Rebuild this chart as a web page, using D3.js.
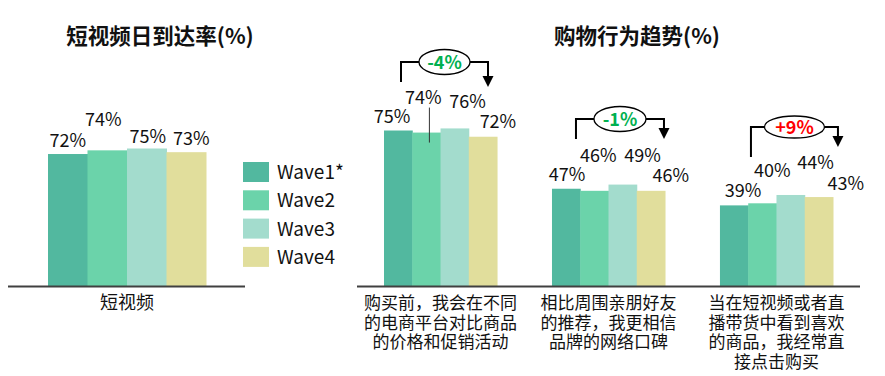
<!DOCTYPE html>
<html>
<head>
<meta charset="utf-8">
<script src="https://cdn.jsdelivr.net/npm/d3@7"></script>
<style>
  body { margin: 0; background: #fff; }
  text { font-family: "Noto Sans CJK SC", "Noto Sans", sans-serif; fill: #111; }
  .title { font-weight: bold; font-size: 21.5px; }
  .val { font-size: 18px; }
  .cat { font-size: 17px; }
  .legend-text { font-size: 19px; }
  .chg { font-size: 18px; font-weight: bold; }
</style>
</head>
<body>
<div id="chart"></div>
<script>
const W = 885, H = 376;
// data
const waves = ["Wave1*", "Wave2", "Wave3", "Wave4"];
const colors = ["#52b89f", "#6bd3aa", "#a3dccd", "#e1de9c"];
const leftCats = ["短视频"];
const leftVals = [[72], [74], [75], [73]]; // per wave
const rightCats = [
  ["购买前，我会在不同", "的电商平台对比商品", "的价格和促销活动"],
  ["相比周围亲朋好友", "的推荐，我更相信", "品牌的网络口碑"],
  ["当在短视频或者直", "播带货中看到喜欢", "的商品，我经常直", "接点击购买"]
];
const rightVals = [[75, 47, 39], [74, 46, 40], [76, 49, 44], [72, 46, 43]]; // per wave
const changes = ["-4%", "-1%", "+9%"];
const changeColors = ["#00b050", "#00b050", "#ff0000"];

// label nudges [dx, dy] from bar center / bar top (layout only)
const leftNudge = [[[0, -7]], [[-4, -24]], [[1, -6]], [[5, -7]]];
const rightNudge = [
  [[-6, -8], [1, -8], [9, -8]],
  [[-3, -29], [4, -29], [10, -26]],
  [[13, -20], [20, -23], [25, -26]],
  [[15, -9], [20, -9], [27, -7]]
];
// bracket: left x offset, right x offset from group start, top y, left foot y, arrow tip y, ellipse radii
const brackets = [
  { l: 17, r: 104, y: 62, foot: 82, tip: 87, rx: 25.5, ry: 12.5 },
  { l: 24, r: 112, y: 119, foot: 139, tip: 139, rx: 26, ry: 12.5 },
  { l: 31, r: 118, y: 127, foot: 157, tip: 147, rx: 30, ry: 11 }
];

const svg = d3.select("#chart").append("svg").attr("width", W).attr("height", H);

// ---- left chart
const BASE = 286.5;
const yL = d3.scaleLinear().domain([0, 100]).range([BASE, BASE - 184]);
const xL = d3.scaleBand().domain(leftCats).range([48, 206]);
const xLi = d3.scaleBand().domain(d3.range(waves.length)).range([0, xL.bandwidth()]);

svg.append("text").attr("class", "title").attr("x", 160).attr("y", 44)
  .attr("text-anchor", "middle").text("短视频日到达率(%)");

waves.forEach((w, s) => {
  leftCats.forEach((c, i) => {
    const v = leftVals[s][i];
    const x = xL(c) + xLi(s);
    svg.append("rect").attr("x", x).attr("y", yL(v))
      .attr("width", xLi.bandwidth() + 0.5).attr("height", yL(0) - yL(v)).attr("fill", colors[s]);
    svg.append("text").attr("class", "val").attr("text-anchor", "middle")
      .attr("x", x + xLi.bandwidth() / 2 + leftNudge[s][i][0])
      .attr("y", yL(v) + leftNudge[s][i][1]).text(v + "%");
  });
});
svg.append("line").attr("x1", 8).attr("x2", 245).attr("y1", BASE).attr("y2", BASE)
  .attr("stroke", "#404040").attr("stroke-width", 2);
leftCats.forEach(c => {
  svg.append("text").attr("class", "cat").attr("text-anchor", "middle")
    .attr("x", xL(c) + xL.bandwidth() / 2).attr("y", 309).style("font-size", "18px").text(c);
});

// legend
const legend = svg.append("g").attr("transform", "translate(243,162)");
waves.forEach((w, s) => {
  legend.append("rect").attr("x", 0).attr("y", s * 28.3).attr("width", 26).attr("height", 20).attr("fill", colors[s]);
  legend.append("text").attr("class", "legend-text").attr("x", 34).attr("y", s * 28.3 + 17).text(w);
});

// ---- right chart
const yR = d3.scaleLinear().domain([0, 100]).range([BASE, BASE - 208]);
const xR = d3.scaleBand().domain(d3.range(rightCats.length)).range([384, 833]).paddingInner(0.327);
const xRi = d3.scaleBand().domain(d3.range(waves.length)).range([0, xR.bandwidth()]);

svg.append("text").attr("class", "title").attr("x", 637).attr("y", 44)
  .attr("text-anchor", "middle").text("购物行为趋势(%)");

waves.forEach((w, s) => {
  rightCats.forEach((c, i) => {
    const v = rightVals[s][i];
    const x = xR(i) + xRi(s);
    svg.append("rect").attr("x", x).attr("y", yR(v))
      .attr("width", xRi.bandwidth() + 0.5).attr("height", yR(0) - yR(v)).attr("fill", colors[s]);
    svg.append("text").attr("class", "val").attr("text-anchor", "middle")
      .attr("x", x + xRi.bandwidth() / 2 + rightNudge[s][i][0])
      .attr("y", yR(v) + rightNudge[s][i][1]).text(v + "%");
  });
});
// leader line for the lifted 74% label
{
  const x = xR(0) + xRi(1) + xRi.bandwidth() / 2 + 3;
  svg.append("line").attr("x1", x).attr("x2", x)
    .attr("y1", yR(rightVals[1][0]) + rightNudge[1][0][1] + 4).attr("y2", yR(rightVals[1][0]) + 10)
    .attr("stroke", "#333").attr("stroke-width", 1);
}
svg.append("line").attr("x1", 357).attr("x2", 860).attr("y1", BASE).attr("y2", BASE)
  .attr("stroke", "#404040").attr("stroke-width", 2);

rightCats.forEach((lines, i) => {
  const t = svg.append("text").attr("class", "cat").attr("text-anchor", "middle");
  lines.forEach((ln, k) => {
    t.append("tspan").attr("x", xR(i) + xR.bandwidth() / 2).attr("y", 309 + k * 19.7).text(ln);
  });
});

// change brackets
brackets.forEach((b, i) => {
  const g0 = xR(i);
  const xl = g0 + b.l, xr = g0 + b.r;
  const cx = (xl + xr) / 2;
  const g = svg.append("g").attr("fill", "none").attr("stroke", "#000").attr("stroke-width", 2);
  g.append("path").attr("d", `M${xl},${b.foot}V${b.y}H${cx - b.rx}`);
  g.append("path").attr("d", `M${cx + b.rx},${b.y}H${xr}V${b.tip - 9}`);
  svg.append("path").attr("d", `M${xr - 5.5},${b.tip - 11}L${xr + 5.5},${b.tip - 11}L${xr},${b.tip}Z`).attr("fill", "#000");
  svg.append("ellipse").attr("cx", cx).attr("cy", b.y).attr("rx", b.rx).attr("ry", b.ry)
    .attr("fill", "#fff").attr("stroke", "#000").attr("stroke-width", 1.3);
  svg.append("text").attr("class", "chg").attr("text-anchor", "middle")
    .attr("x", cx).attr("y", b.y + 6.5).style("fill", changeColors[i]).text(changes[i]);
});
</script>
</body>
</html>
